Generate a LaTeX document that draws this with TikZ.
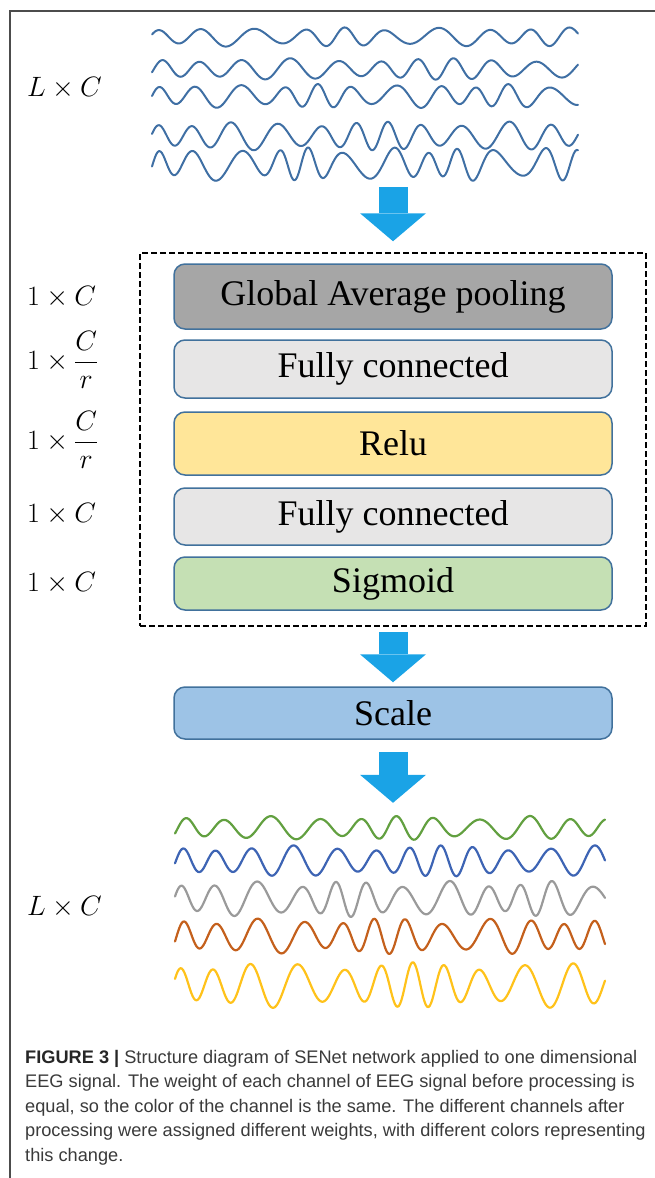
\documentclass[tikz,border=0pt]{standalone}
\usepackage{fix-cm}
\usepackage{fontspec}
\setmainfont{Liberation Serif}
\newfontfamily\capfont{Liberation Sans}
\usetikzlibrary{arrows.meta,positioning}
\definecolor{arrowblue}{HTML}{1AA3E6}
\definecolor{edgeblue}{HTML}{41719C}
\definecolor{wireblue}{HTML}{3F6FA4}
\definecolor{gapgray}{HTML}{A6A6A6}
\definecolor{fcgray}{HTML}{E7E6E6}
\definecolor{reluyellow}{HTML}{FFE699}
\definecolor{sigmgreen}{HTML}{C5E0B4}
\definecolor{scaleblue}{HTML}{9DC3E6}
\definecolor{chgreen}{HTML}{62A040}
\definecolor{chblue}{HTML}{3D64B4}
\definecolor{chgray}{HTML}{9A9A9A}
\definecolor{chorange}{HTML}{C4601C}
\definecolor{chyellow}{HTML}{FFC21A}
\definecolor{captext}{HTML}{3A3A3A}

\begin{document}
\begin{tikzpicture}[x=1pt,y=-1pt,
  layer/.style={draw=edgeblue,line width=1.5pt,rounded corners=11pt,minimum width=438pt,inner sep=0pt,
                font=\fontsize{36}{42}\selectfont},
  dim/.style={anchor=west,inner sep=0pt,font=\fontsize{28}{34}\selectfont},
  blockarr/.style={line width=29pt,draw=arrowblue,-{Triangle[length=28pt,width=66pt,line width=0pt]}},
  sig/.style={line width=2pt,line join=round,line cap=round}]
  \useasboundingbox (0,0) rectangle (655,1178);
  \draw[line width=1.3pt,black!70] (10,1178) -- (10,11) -- (655,11);
  % input channels, all the same colour
  \node[minimum width=426pt,minimum height=156pt,inner sep=0pt] (inwaves) at (365,105) {};
  \foreach \ya/\am/\kk/\bb/\mm/\ph in {37/8/7.8/55/1.9/200, 69/9/8.6/70/1.3/160, 96/10/9.2/60/2.2/180,
                                       136/12/9.4/75/1.6/190, 164/14/9.6/80/2.5/170}
    \draw[sig,wireblue] plot[domain=0:426,samples=300]
      ({152+\x},{\ya+\am*(1+0.2*sin(1.7*\mm*\x+\ph))*sin(\kk*\x+\ph+\bb*sin(\mm*\x))});
  \node[dim] (lin) at (27,88) {$L\times C$};
  % squeeze and excitation block
  \node[draw,dash pattern=on 6pt off 3pt,line width=1.5pt,minimum width=506pt,minimum height=373pt] (se) at (393,439.5) {};
  \node[layer,fill=gapgray,minimum height=65pt] (gap) at (393,296.5) {Global Average pooling};
  \node[layer,fill=fcgray,minimum height=58pt] (fca) at (393,369) {Fully connected};
  \node[layer,fill=reluyellow,minimum height=63pt] (relu) at (393,443.5) {Relu};
  \node[layer,fill=fcgray,minimum height=57pt] (fcb) at (393,516.5) {Fully connected};
  \node[layer,fill=sigmgreen,minimum height=53pt] (sigm) at (393,583.5) {Sigmoid};
  \node[layer,fill=scaleblue,minimum height=52pt] (scale) at (393,713) {Scale};
  \node[dim] (lgap) at (27,297) {$1\times C$};
  \node[dim] (lfca) at (27,360) {$1\times {\displaystyle\frac{C}{r}}$};
  \node[dim] (lrelu) at (27,440) {$1\times {\displaystyle\frac{C}{r}}$};
  \node[dim] (lfcb) at (27,514) {$1\times C$};
  \node[dim] (lsigm) at (27,583) {$1\times C$};
  % reweighted channels
  \node[minimum width=430pt,minimum height=196pt,inner sep=0pt] (outwaves) at (390,908) {};
  \foreach \ya/\am/\kk/\bb/\mm/\ph/\cl in {828/10/8.6/60/1.7/150/chgreen, 861/13/9.8/75/1.4/170/chblue,
                                           899/15/9.6/65/2.1/190/chgray, 936/15/9.6/75/1.8/160/chorange,
                                           985/19/9.4/90/1.5/200/chyellow}
    \draw[sig,\cl,line width=2.2pt] plot[domain=0:430,samples=320]
      ({175+\x},{\ya+\am*(1+0.2*sin(1.7*\mm*\x+\ph))*sin(\kk*\x+\ph+\bb*sin(\mm*\x))});
  \node[dim] (lout) at (27,907) {$L\times C$};
  \draw[blockarr,shorten <=4pt,shorten >=11pt] (se.north |- inwaves.south) -- (se.north);
  \draw[blockarr,shorten <=5pt,shorten >=4pt] (se.south) -- (scale.north);
  \draw[blockarr,shorten <=12pt,shorten >=7pt] (scale.south) -- (scale.south |- outwaves.north);
  \node[anchor=north west,inner sep=0pt,align=left,text=captext,font=\capfont\fontsize{18.2}{24.5}\selectfont] (caption) at (25,1050)
    {{\bfseries\color{black!85}FIGURE 3 |} Structure diagram of SENet network applied to one dimensional\\
     EEG signal. The weight of each channel of EEG signal before processing is\\
     equal, so the color of the channel is the same. The different channels after\\
     processing were assigned different weights, with different colors representing\\
     this change.};
\end{tikzpicture}
\end{document}
